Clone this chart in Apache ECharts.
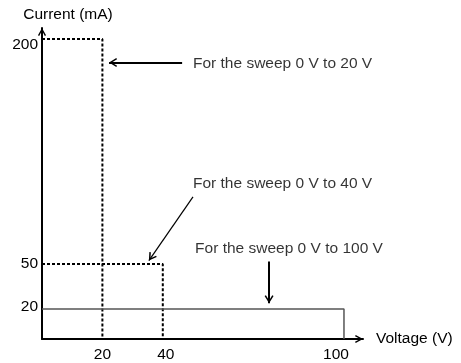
<!DOCTYPE html>
<html>
<head>
<meta charset="utf-8">
<script src="https://cdn.jsdelivr.net/npm/echarts@6/dist/echarts.min.js"></script>
<style>
  html, body { margin: 0; padding: 0; background: #fff; }
  #chart { width: 461px; height: 363px; }
</style>
</head>
<body>
<div id="chart"></div>
<script>
// Current limit envelopes for each voltage sweep range
const sweep20V = [[0, 200], [20, 200], [20, 0]];
const sweep40V = [[0, 50], [40, 50], [40, 0]];
const sweep100V = [[0, 20], [100, 20], [100, 0]];

// Tick labels shown on each axis
const voltageTicks = [20, 40, 100];
const currentTicks = [20, 50, 200];

// Annotation text and where it sits (data units)
const noteText = ['For the sweep 0 V to 20 V', 'For the sweep 0 V to 40 V', 'For the sweep 0 V to 100 V'];
const noteX = [50, 50, 50.7];
const noteY = [183.4, 103.3, 60.3];

// Pointer arrows: [fromX, fromY, toX, toY]
const pointer20V = [46.4, 184.3, 22.2, 184.3];
const pointer40V = [50, 94.7, 35.4, 52.3];
const pointer100V = [75.2, 51.7, 75.2, 23.8];

const FONT = 'Liberation Sans, Arial, sans-serif';
const FS = 15.5;
const chevron = 'path://M0,9 L5,0 L10,9 L8.5,9.9 L5,3.4 L1.5,9.9 Z';

function pointer(p, width) {
  return {
    silent: true,
    symbol: ['none', chevron],
    symbolSize: [9, 8],
    symbolOffset: [0, [0, 4]],
    label: { show: false },
    lineStyle: { color: '#000', width: width, type: 'solid' },
    emphasis: { disabled: true },
    data: [[{ coord: [p[0], p[1]] }, { coord: [p[2], p[3]] }]]
  };
}

const labelText = { color: '#000', fontSize: FS, fontFamily: FONT };

const chart = echarts.init(document.getElementById('chart'));
chart.setOption({
  animation: false,
  backgroundColor: '#fff',
  textStyle: { fontFamily: FONT },
  grid: { left: 42, top: 28, bottom: 22, width: 321, containLabel: false },
  xAxis: {
    type: 'value',
    min: 0,
    max: 106.3,
    name: 'Voltage (V)',
    nameLocation: 'end',
    nameGap: 13,
    nameTextStyle: labelText,
    axisLine: {
      lineStyle: { color: '#000', width: 2 },
      symbol: ['none', chevron],
      symbolSize: [9, 8],
      symbolOffset: [0, -4]
    },
    axisTick: { show: false },
    splitLine: { show: false },
    axisLabel: {
      customValues: voltageTicks,
      color: '#000',
      fontSize: FS,
      fontFamily: FONT,
      margin: 8,
      formatter: v => v === 100 ? '{left|100}' : v === 40 ? '{right|40}' : String(v),
      rich: {
        left: Object.assign({ padding: [0, 16, 0, 0] }, labelText),
        right: Object.assign({ padding: [0, 0, 0, 6] }, labelText)
      }
    }
  },
  yAxis: {
    type: 'value',
    min: 0,
    max: 207.3,
    name: 'Current (mA)',
    nameLocation: 'end',
    nameGap: 5,
    nameTextStyle: Object.assign({ align: 'center', padding: [0, 0, 0, 52] }, labelText),
    axisLine: {
      lineStyle: { color: '#000', width: 2 },
      symbol: ['none', chevron],
      symbolSize: [9, 8],
      symbolOffset: [0, -4]
    },
    axisTick: { show: false },
    splitLine: { show: false },
    axisLabel: {
      customValues: currentTicks,
      color: '#000',
      fontSize: FS,
      fontFamily: FONT,
      margin: 4,
      formatter: v => v === 200 ? '{low|200}' : v === 20 ? '{up|20}' : String(v),
      rich: {
        low: Object.assign({ padding: [12, 0, 0, 0] }, labelText),
        up: Object.assign({ padding: [0, 0, 5, 0] }, labelText)
      }
    }
  },
  series: [
    {
      name: '0 V to 20 V',
      type: 'line',
      data: sweep20V,
      showSymbol: false,
      lineStyle: { color: '#000', width: 2, type: [3, 2] },
      markLine: pointer(pointer20V, 2)
    },
    {
      name: '0 V to 40 V',
      type: 'line',
      data: sweep40V,
      showSymbol: false,
      lineStyle: { color: '#000', width: 2, type: [3, 2] },
      markLine: pointer(pointer40V, 1.2)
    },
    {
      name: '0 V to 100 V',
      type: 'line',
      data: sweep100V,
      showSymbol: false,
      lineStyle: { color: '#555', width: 1.5 },
      markLine: pointer(pointer100V, 2)
    },
    {
      name: 'notes',
      type: 'scatter',
      symbolSize: 0,
      silent: true,
      data: noteText.map((t, i) => [noteX[i], noteY[i], t]),
      label: {
        show: true,
        position: 'right',
        distance: 0,
        color: '#000',
        fontSize: FS,
        fontFamily: FONT,
        formatter: p => p.data[2]
      }
    }
  ]
});
</script>
</body>
</html>
